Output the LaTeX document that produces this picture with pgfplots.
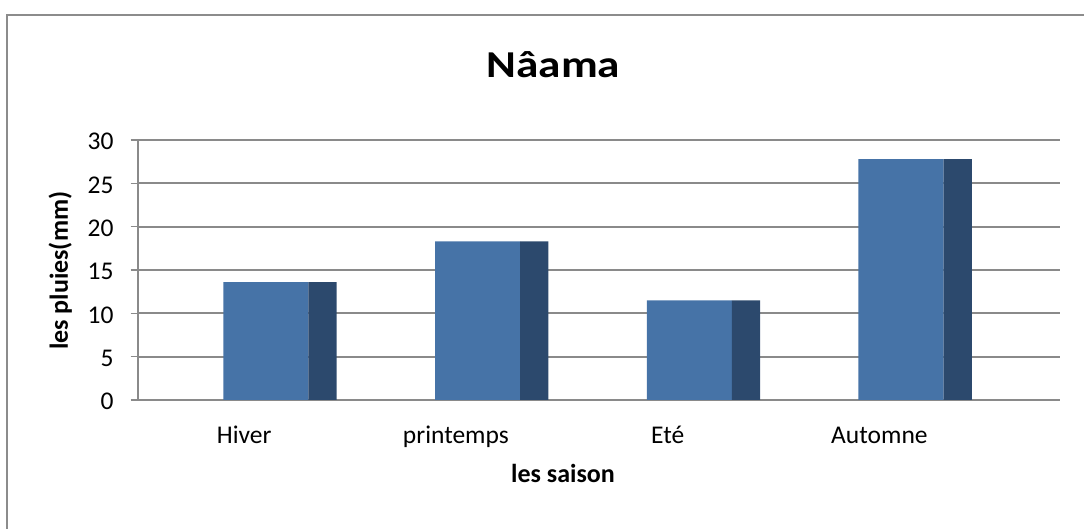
\documentclass[border=0pt]{standalone}
\usepackage{fontspec}
\setmainfont{Carlito}
\usepackage{pgfplots}
\pgfplotsset{compat=1.18}
\definecolor{front}{RGB}{70,115,167}
\definecolor{side}{RGB}{44,73,109}
\definecolor{gridc}{RGB}{138,138,138}
\definecolor{borderc}{RGB}{140,140,140}
\begin{document}
\begin{tikzpicture}
\begin{axis}[
  name=ax, anchor=origin, at={(0pt,0pt)}, scale only axis,
  width=922.3pt, height=260pt,
  xmin=-0.605, xmax=3.751, ymin=0, ymax=30,
  ytick={0,5,...,30},
  xtick={-0.102,0.898,1.898,2.898},
  xticklabels={Hiver,printemps,Eté,Automne},
  axis lines*=left,
  axis line style={gridc, line width=1.7pt},
  ymajorgrids, grid style={gridc, line width=1.7pt},
  tick align=outside, major tick length=7pt,
  ytick style={gridc, line width=1.5pt},
  xtick style={draw=none},
  /pgf/number format/assume math mode=true,
  ticklabel style={font=\fontsize{25.5}{30}\selectfont, inner sep=0pt},
  yticklabel style={anchor=base east, xshift=-17pt, yshift=-10pt},
  xticklabel style={anchor=base, yshift=-37pt},
  title={\scalebox{1.19}[1]{Nâama}},
  title style={font=\bfseries\fontsize{38}{46}\selectfont, at={(rel axis cs:0.4508,1.2185)}, anchor=base, inner sep=0pt},
  xlabel={les saison},
  xlabel style={font=\bfseries\fontsize{26}{31}\selectfont, at={(rel axis cs:0.4611,-0.3165)}, anchor=base, inner sep=0pt},
  ylabel={les pluies(mm)},
  ylabel style={font=\bfseries\fontsize{26}{31}\selectfont, at={(rel axis cs:-0.0756,0.497)}, anchor=base, inner sep=0pt},
]
\addplot[ybar, bar width=0.4015, bar shift=0, fill=front, draw=none]
  coordinates {(0,13.6) (1,18.3) (2,11.5) (3,27.8)};
\addplot[ybar, bar width=0.134, bar shift=0.268, fill=side, draw=none]
  coordinates {(0,13.6) (1,18.3) (2,11.5) (3,27.8)};
\end{axis}
\path[use as bounding box] ([shift={(-137.7pt,-129pt)}]ax.south west) rectangle ([shift={(24pt,140pt)}]ax.north east);
\draw[borderc, line width=1.3pt] ([shift={(-130.7pt,-129pt)}]ax.south west) -- ([shift={(-130.7pt,125pt)}]ax.north west) -- ([shift={(24pt,125pt)}]ax.north east);
\end{tikzpicture}
\end{document}
